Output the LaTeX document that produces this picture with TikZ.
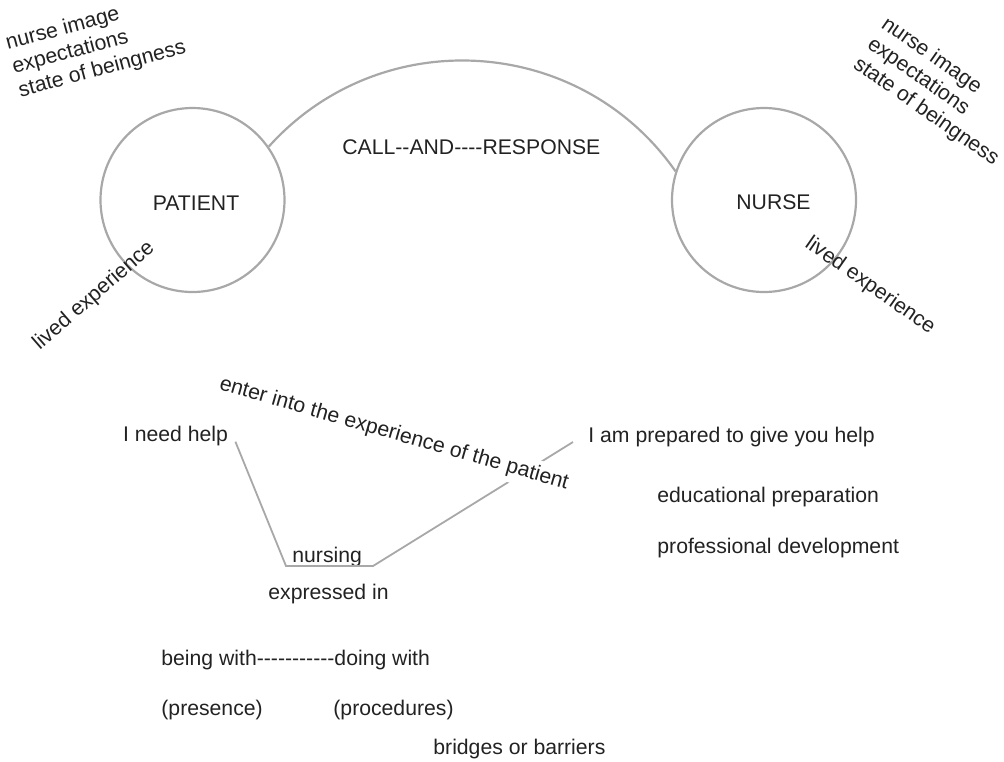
\documentclass[tikz,border=0pt]{standalone}
\usepackage{fontspec}
\newfontfamily\labelfont{Liberation Sans}
\definecolor{linegray}{RGB}{168,168,168}
\definecolor{ink}{RGB}{34,34,34}
\tikzset{x=0.5pt, y=0.5pt}

\begin{document}
\begin{tikzpicture}[
 lbl/.style={font=\labelfont\fontsize{10.6}{12.25}\selectfont, text=ink, inner sep=0pt},
 person/.style={circle, draw=linegray, line width=1.1pt, minimum size=92pt},
 link/.style={draw=linegray, line width=0.9pt}]
\useasboundingbox (0,0) rectangle (1004,-761);
% the two people and the call
\node[person, label={[lbl,xshift=1.75pt,yshift=-1.5pt]center:PATIENT}] (patient) at (192.5,-200) {};
\node[person, label={[lbl,xshift=4.75pt,yshift=-1pt]center:NURSE}] (nurse) at (764,-200) {};
\draw[link, line width=1.1pt] (patient.35) to[out=48,in=125,looseness=1.05] (nurse.162);
\node[lbl, anchor=base west] (call) at (342,-154.6) {CALL--AND----RESPONSE};
% notes round the circles
\node[lbl, align=left, rotate=15] (imgpat) at (96,-46) {nurse image\\expectations\\state of beingness};
\node[lbl, align=left, rotate=-35] (imgnur) at (940,-92) {nurse image\\expectations\\state of beingness};
\node[lbl, rotate=41] (livedpat) at (94,-296) {lived experience};
\node[lbl, rotate=-35] (livednur) at (870,-286) {lived experience};
% lower part
\node[lbl, anchor=base west] (need) at (122.7,-441.7) {I need help};
\node[lbl, anchor=base west] (ready) at (588,-442) {I am prepared to give you help};
\node[lbl, anchor=base west] (educ) at (657,-502) {educational preparation};
\node[lbl, anchor=base west] (prof) at (657,-553) {professional development};
\node[lbl, anchor=base west] (nursing) at (292,-562) {nursing};
\node[lbl, anchor=base west] (expr) at (268,-599.5) {expressed in};
\node[lbl, anchor=base west] (being) at (161,-665) {being with-----------doing with};
\node[lbl, anchor=base west] (pres) at (161,-715.5) {(presence)};
\node[lbl, anchor=base west] (proc) at (333,-715.5) {(procedures)};
\node[lbl, anchor=base west] (bridge) at (433,-754) {bridges or barriers};
\coordinate (nl) at (286,-566);
\coordinate (nr) at (373,-566);
\draw[link] ([xshift=3.5pt]need.base east) -- (nl) -- (nr) -- ([xshift=-7.5pt]ready.base west);
\node[lbl, rotate=-16, fill=white, inner sep=2.5pt] (enter) at (394,-434) {enter into the experience of the patient};
\end{tikzpicture}
\end{document}
